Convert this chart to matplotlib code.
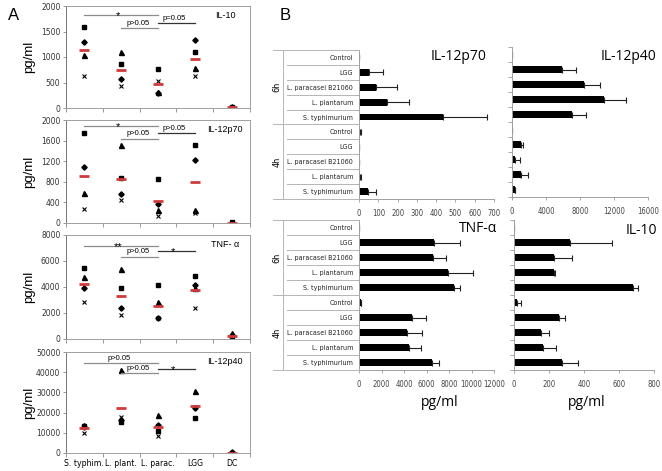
import numpy as np
import matplotlib
matplotlib.use("Agg")
import matplotlib.pyplot as plt
from matplotlib import font_manager
from matplotlib.lines import Line2D
from matplotlib.transforms import blended_transform_factory

W, H = 662, 471
RED = "#cf3b3b"

# ---------------- panel A: donor values ----------------
groupsA = ["S. typhim.", "L. plant.", "L. parac.", "LGG", "DC"]

il10_sq = [1580, 872, 774, 1089, 15]
il10_dia = [1298, 564, 295, 1331, 20]
il10_tri = [1036, 1102, 305, 787, 15]
il10_x = [623, 426, 538, 636, 10]
il10_avg = [1134, 741, 479, 957, 15]

p70_sq = [1753, 883, 864, 1513, 10]
p70_dia = [1078, 571, 377, 1221, 8]
p70_tri = [584, 1513, 260, 260, 5]
p70_x = [273, 455, 143, 201, 5]
p70_avg = [922, 864, 420, 799, 8]

tnf_sq = [5436, 3897, 4154, 4872, 100]
tnf_dia = [3949, 2359, 1590, 4154, 300]
tnf_tri = [4795, 5359, 2821, 3949, 450]
tnf_x = [2821, 1846, 1590, 2359, 50]
tnf_avg = [4231, 3333, 2538, 3769, 210]

p40_sq = [13500, 15574, 10656, 17213, 200]
p40_dia = [12800, 16393, 13934, 22131, 300]
p40_tri = [14098, 40984, 18852, 30820, 200]
p40_x = [9836, 18033, 8197, 22952, 100]
p40_avg = [12295, 22459, 12787, 23279, 200]

# comparisons drawn above the points: S.typhim-L.parac, L.plant-L.parac, L.parac-LGG
sig_pairs = [(1, 3), (2, 3), (3, 4)]
il10_sig = ["*", "p>0.05", "p=0.05"]
p70_sig = ["*", "p>0.05", "p>0.05"]
tnf_sig = ["**", "p>0.05", "*"]
p40_sig = ["p>0.05", "p>0.05", "*"]

# ---------------- panel B: mean +/- sd per stimulus and time ----------------
condsB = ["Control", "LGG", "L. paracasei B21060", "L. plantarum", "S. typhimurium"]
timesB = ["6h", "4h"]

b_p70 = [2, 52, 88, 147, 438, 6, 2, 1, 5, 49]
b_p70_err = [0, 75, 111, 113, 226, 5, 0, 0, 5, 39]
b_p40 = [0, 5900, 8470, 10780, 7100, 0, 1020, 390, 1100, 310]
b_p40_err = [0, 1600, 1920, 2590, 1600, 0, 270, 590, 820, 100]
b_tnf = [20, 6690, 6540, 7870, 8460, 150, 4680, 4290, 4470, 6450]
b_tnf_err = [0, 2280, 1150, 2220, 530, 50, 1300, 1270, 1040, 650]
b_il10 = [0, 319, 229, 229, 678, 19, 256, 153, 168, 275]
b_il10_err = [0, 242, 105, 4, 28, 23, 38, 47, 71, 88]


def pick_narrow():
    # the labels in the original are set in a condensed face; use one if there is any
    for f in font_manager.fontManager.ttflist:
        if (f.stretch in ("condensed", "semi-condensed", "extra-condensed")
                and f.style == "normal" and f.weight in (400, "normal", "regular")
                and "Mono" not in f.name and "Serif" not in f.name):
            return dict(family=f.name, stretch=f.stretch), True
    return dict(family="Lato"), False


NARROW, HAVE_NARROW = pick_narrow()
SANS = "Liberation Sans"
ROW_FS = 5.1 if HAVE_NARROW else 4.6
CAT_FS = 6.2 if HAVE_NARROW else 5.6

fig = plt.figure(figsize=(W / 100, H / 100), dpi=100)


def add_ax(l, t, r, b):
    # axes placed in pixel coordinates of the 662x471 canvas
    return fig.add_axes([l / W, 1 - b / H, (r - l) / W, (b - t) / H])


def ftext(x, y, s, **kw):
    fig.text(x / W, 1 - y / H, s, **kw)


def draw_scatter(ax, sq, dia, tri, xx, avg, ymax, ystep, name, sig, heights):
    x = np.arange(1, len(groupsA) + 1)
    ax.plot(x, sq, ls="none", marker="s", ms=3.2, color="black")
    ax.plot(x, dia, ls="none", marker="D", ms=2.7, color="black")
    ax.plot(x, tri, ls="none", marker="^", ms=3.6, color="black")
    ax.plot(x, xx, ls="none", marker="x", ms=3.4, mew=0.8, color="black")
    ax.plot(x, avg, ls="none", marker="_", ms=6.5, mew=2.0, color=RED)
    ax.set_xlim(0.5, len(groupsA) + 0.5)
    ax.set_ylim(0, ymax)
    ax.set_yticks(np.arange(0, ymax + 1, ystep))
    ax.set_xticks(np.arange(0.5, len(groupsA) + 1, 1.0))
    ax.set_xticklabels([])
    ax.tick_params(axis="x", direction="out", length=3, width=0.6, color="#888")
    ax.tick_params(axis="y", direction="out", length=2.5, width=0.6, color="#888",
                   labelsize=5.5, labelcolor="#333", pad=1.5)
    for s in ax.spines.values():
        s.set_color("#a0a0a0")
        s.set_linewidth(0.7)
    ax.spines["left"].set_color("#777")
    ax.set_ylabel("pg/ml", fontsize=9.5, family=SANS)
    ax.yaxis.set_label_coords(-0.168, 0.5)
    ax.text(0.865, 0.905, name, transform=ax.transAxes, ha="center", va="center",
            fontsize=6.5, family=SANS)

    trans = ax.get_xaxis_transform()
    colors = ["#8c8c8c", "#8c8c8c", "#333333"]
    for (x0, x1), h, lab, c in zip(sig_pairs, heights, sig, colors):
        ax.plot([x0, x1], [h, h], color=c, lw=0.9, transform=trans, clip_on=False)
        if lab.strip("*") == "":
            ax.text((x0 + x1) / 2 - 0.08, h - 0.06, lab, transform=trans, ha="center",
                    va="bottom", fontsize=8, family=SANS)
        else:
            ax.text((x0 + x1) / 2 - 0.05, h + 0.015, lab, transform=trans, ha="center",
                    va="bottom", fontsize=5.5, family=SANS)


def draw_bars(ax, vals, errs, xmax, xstep, with_labels):
    rows = condsB * len(timesB)
    y = np.arange(len(rows))
    ax.barh(y, vals, height=0.45, color="black")
    ax.errorbar(vals, y, xerr=[np.zeros(len(vals)), errs], fmt="none", ecolor="#222",
                elinewidth=0.8, capsize=2.2, capthick=0.8)
    ax.set_ylim(len(rows) - 0.5, -0.5)
    ax.set_xlim(0, xmax)
    ax.set_xticks(np.arange(0, xmax + 1, xstep))
    ax.tick_params(axis="x", labelsize=5.5, labelcolor="#444", length=2, width=0.6,
                   color="#999", pad=5)
    for lab in ax.get_xticklabels():
        lab.update(NARROW)
    ax.set_yticks(y)
    ax.set_yticks(np.arange(-0.5, len(rows), 1.0), minor=True)
    ax.tick_params(axis="y", which="minor", length=3, width=0.6, color="#999")
    ax.tick_params(axis="y", which="major", length=0, pad=4.3, labelsize=ROW_FS)
    if with_labels:
        ax.set_yticklabels(rows, color="#222", **NARROW)
    else:
        ax.set_yticklabels([])
    for s in ("top", "right"):
        ax.spines[s].set_visible(False)
    for s in ("left", "bottom"):
        ax.spines[s].set_color("#a0a0a0")
        ax.spines[s].set_linewidth(0.7)


def draw_table(ax):
    # Excel style two level category frame left of the bars
    tr = blended_transform_factory(fig.transFigure, ax.transData)
    n = len(condsB)
    kw = dict(transform=tr, color="#b5b5b5", lw=0.7)
    for g in range(len(timesB)):
        for k in range(1, n):
            b = g * n + k - 0.5
            fig.add_artist(Line2D([287 / W, 357 / W], [b, b], **kw))
    for g in range(len(timesB) + 1):
        b = g * n - 0.5
        fig.add_artist(Line2D([273 / W, 359 / W], [b, b], **kw))
    for g, lab in enumerate(timesB):
        y0, y1 = g * n - 0.45, (g + 1) * n - 0.55
        fig.add_artist(Line2D([283 / W, 283 / W], [y0, y1], **kw))
        fig.text(277 / W, (y0 + y1) / 2, lab, transform=tr, rotation=90, ha="center",
                 va="center", fontsize=6.5, **NARROW)


# ---------------- panel A ----------------
ftext(8, 15, "A", fontsize=12, va="center", family=SANS)
axA = [add_ax(66, 6, 250, 108), add_ax(66, 120, 250, 223),
       add_ax(66, 235, 250, 339), add_ax(66, 352, 250, 453)]
draw_scatter(axA[0], il10_sq, il10_dia, il10_tri, il10_x, il10_avg, 2000, 500,
             "IL-10", il10_sig, (0.91, 0.78, 0.83))
draw_scatter(axA[1], p70_sq, p70_dia, p70_tri, p70_x, p70_avg, 2000, 400,
             "IL-12p70", p70_sig, (0.94, 0.82, 0.87))
draw_scatter(axA[2], tnf_sq, tnf_dia, tnf_tri, tnf_x, tnf_avg, 8000, 2000,
             "TNF- \u03b1", tnf_sig, (0.894, 0.79, 0.846))
draw_scatter(axA[3], p40_sq, p40_dia, p40_tri, p40_x, p40_avg, 50000, 10000,
             "IL-12p40", p40_sig, (0.89, 0.79, 0.83))
axA[3].set_xticks(np.arange(1, len(groupsA) + 1), minor=True)
axA[3].set_xticklabels(groupsA, minor=True, fontsize=CAT_FS, **NARROW)
axA[3].tick_params(axis="x", which="minor", length=0, pad=4)

# ---------------- panel B ----------------
ftext(280, 16, "B", fontsize=12, va="center", family=SANS)
ax1 = add_ax(359, 50, 494, 199)
ax2 = add_ax(512, 47, 648, 197)
ax3 = add_ax(359, 220, 494, 370)
ax4 = add_ax(514, 220, 654, 370)
draw_bars(ax1, b_p70, b_p70_err, 700, 100, True)
draw_bars(ax2, b_p40, b_p40_err, 16000, 4000, False)
draw_bars(ax3, b_tnf, b_tnf_err, 12000, 2000, True)
draw_bars(ax4, b_il10, b_il10_err, 800, 200, False)
draw_table(ax1)
draw_table(ax3)

ftext(487, 57, "IL-12p70", fontsize=10, ha="right", va="center", family="Open Sans")
ftext(656, 56, "IL-12p40", fontsize=10, ha="right", va="center", family="Open Sans")
ftext(497, 229, "TNF-\u03b1", fontsize=10, ha="right", va="center", family="Open Sans")
ftext(657, 230, "IL-10", fontsize=10, ha="right", va="center", family="Open Sans")
ftext(440, 403, "pg/ml", fontsize=10, ha="center", va="center", family="Open Sans")
ftext(587, 403, "pg/ml", fontsize=10, ha="center", va="center", family="Open Sans")

fig.savefig("out.png", dpi=100)
